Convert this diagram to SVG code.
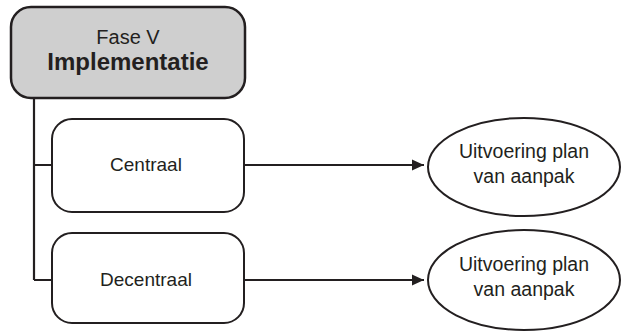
<svg xmlns="http://www.w3.org/2000/svg" width="621" height="332" viewBox="0 0 621 332">
<defs>
<style>
.box{fill:#fff;stroke:#231f20;stroke-width:2}
.t{font-family:"Liberation Sans",Arial,sans-serif;fill:#231f20;text-anchor:middle}
.ln{stroke:#231f20;stroke-width:2.2;fill:none}
</style>
<marker id="ah" markerWidth="12" markerHeight="12" refX="12" refY="6" orient="auto" markerUnits="userSpaceOnUse">
<path d="M0,0.5 L12,6 L0,11.5 Z" fill="#231f20"/>
</marker>
</defs>
<g id="connectors">
<path class="ln" d="M34,98 V280 M34,165 H52 M34,280 H52"/>
<path class="ln" d="M244,165 H424" marker-end="url(#ah)"/>
<path class="ln" d="M244,280 H424" marker-end="url(#ah)"/>
</g>
<g id="fase">
<rect x="11" y="7" width="234" height="91" rx="20" fill="#cfcfcf" stroke="#231f20" stroke-width="2.5"/>
<text class="t" x="128" y="44" font-size="20">Fase V</text>
<text class="t" x="128" y="70" font-size="24" font-weight="bold">Implementatie</text>
</g>
<g id="centraal">
<rect class="box" x="52" y="119" width="192" height="93" rx="20"/>
<text class="t" x="146" y="171" font-size="19">Centraal</text>
</g>
<g id="decentraal">
<rect class="box" x="52" y="233" width="192" height="90" rx="20"/>
<text class="t" x="146" y="286" font-size="19">Decentraal</text>
</g>
<g id="uitvoering1">
<ellipse class="box" cx="524" cy="167" rx="96" ry="49"/>
<text class="t" x="524" y="158" font-size="19.5">Uitvoering plan</text>
<text class="t" x="524" y="183" font-size="19.5">van aanpak</text>
</g>
<g id="uitvoering2">
<ellipse class="box" cx="524" cy="280" rx="96" ry="50"/>
<text class="t" x="524" y="271" font-size="19.5">Uitvoering plan</text>
<text class="t" x="524" y="296" font-size="19.5">van aanpak</text>
</g>
</svg>
